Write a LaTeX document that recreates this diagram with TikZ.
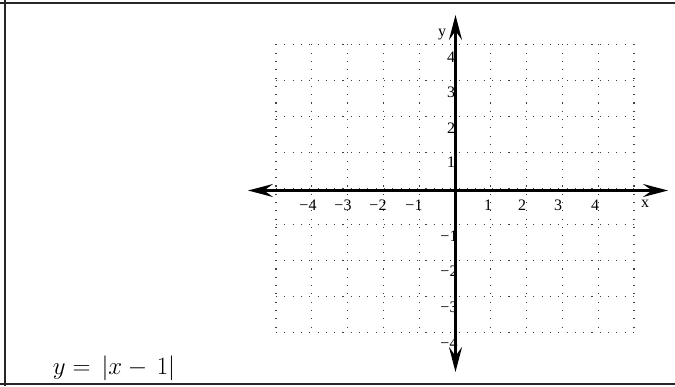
\documentclass[tikz,border=0pt]{standalone}
\usepackage{fontspec}
\setmainfont{Liberation Serif}
\usetikzlibrary{arrows.meta}
\tikzset{
  frameline/.style={line width=1.8pt, black!85},
  griddot/.style={line width=1.1pt, black!75, dash pattern=on 1.1pt off 7.2pt},
  axisline/.style={line width=2.6pt, black,
    {Stealth[length=25pt,width=13pt,inset=9pt]}-{Stealth[length=25pt,width=13pt,inset=9pt]}},
  ticklab/.style={font=\fontsize{16}{18}\selectfont, inner sep=0pt},
  axislab/.style={font=\fontsize{16}{18}\selectfont, inner sep=0pt},
  formula/.style={font=\fontsize{23}{27}\selectfont, inner sep=0pt}
}
\begin{document}
\begin{tikzpicture}[x=1pt,y=-1pt]
\useasboundingbox (0,0) rectangle (675,386);
% frame
\coordinate (ftl) at (0,3);   \coordinate (ftr) at (675,3);
\coordinate (flt) at (5,0);   \coordinate (flb) at (5,386);
\coordinate (fbl) at (0,384); \coordinate (fbr) at (675,384);
\draw[frameline] (ftl) -- (ftr);
\draw[frameline] (flt) -- (flb);
\draw[frameline] (fbl) -- (fbr);
% grid
\foreach \i in {0,...,10}
  \draw[griddot] ({276+35.8*\i},44.3) -- ({276+35.8*\i},332.3);
\foreach \j in {0,...,8}
  \draw[griddot] (276,{44.3+36*\j}) -- (634,{44.3+36*\j});
% axes
\coordinate (xl) at (248,190.5); \coordinate (xr) at (668,190.5);
\coordinate (yt) at (455.5,15);  \coordinate (yb) at (455.5,372);
\draw[axisline] (xl) -- (xr);
\draw[axisline] (yt) -- (yb);
% axis labels
\node[axislab] (lx) at (645,204) {x};
\node[axislab] (ly) at (442,35) {y};
% x tick labels
\node[ticklab] (xm4) at (308,205) {−4};
\node[ticklab] (xm3) at (343,205) {−3};
\node[ticklab] (xm2) at (378,205) {−2};
\node[ticklab] (xm1) at (414,205) {−1};
\node[ticklab] (xp1) at (488,205) {1};
\node[ticklab] (xp2) at (522,205) {2};
\node[ticklab] (xp3) at (558,205) {3};
\node[ticklab] (xp4) at (595,205) {4};
% y tick labels
\node[ticklab] (yp4) at (451,57) {4};
\node[ticklab] (yp3) at (451,92.5) {3};
\node[ticklab] (yp2) at (451,128) {2};
\node[ticklab] (yp1) at (451,162) {1};
\node[ticklab] (ym1) at (449,236) {−1};
\node[ticklab] (ym2) at (449,271) {−2};
\node[ticklab] (ym3) at (449,307) {−3};
\node[ticklab] (ym4) at (449,343) {−4};
% formula
\node[formula] (f) at (114,368) {$y =\, |x -\, 1|$};
\end{tikzpicture}
\end{document}
